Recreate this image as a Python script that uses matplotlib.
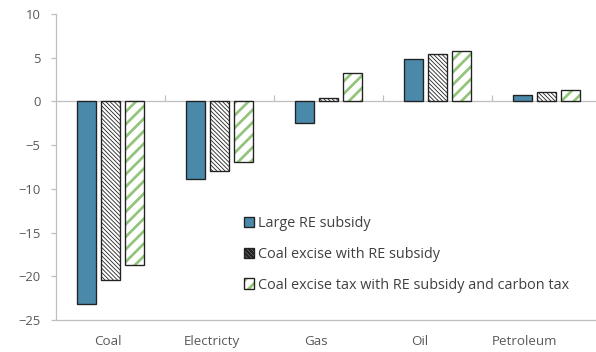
import numpy as np
import matplotlib
matplotlib.use('Agg')
import matplotlib.pyplot as plt
from matplotlib.patches import Patch
from matplotlib.legend_handler import HandlerTuple

categories = ['Coal', 'Electricty', 'Gas', 'Oil', 'Petroleum']
large_re_subsidy = [-23.2, -8.9, -2.5, 4.9, 0.7]
coal_excise_re = [-20.4, -8.0, 0.4, 5.4, 1.05]
coal_excise_re_carbon = [-18.7, -6.95, 3.25, 5.75, 1.3]
series_labels = ['Large RE subsidy',
                 'Coal excise with RE subsidy',
                 'Coal excise tax with RE subsidy and carbon tax']
y_ticks = np.arange(-25, 11, 5)

DPI = 75
BLUE = '#4a89aa'
GREEN = '#92c57a'
GREY = '#bfbfbf'
TEXT = '#595959'
EDGE = '#222222'
HATCH_DENSE = '\\' * 6
HATCH_WIDE = '//'

plt.rcParams['font.family'] = ['Open Sans', 'DejaVu Sans']
plt.rcParams['font.size'] = 12.5

fig = plt.figure(figsize=(596 / DPI, 352 / DPI), dpi=DPI)
ax = fig.add_axes([56 / 596, 32 / 352, 545 / 596, 306 / 352])

x = np.arange(len(categories))
width = 0.18
step = 0.22

# solid blue bars
ax.bar(x - step, large_re_subsidy, width, color=BLUE,
       edgecolor=EDGE, linewidth=1.3, zorder=3)

# black diagonal hatch
plt.rcParams['hatch.linewidth'] = 0.8
ax.bar(x, coal_excise_re, width, color='white', edgecolor=EDGE,
       hatch=HATCH_DENSE, linewidth=1.3, zorder=3)

# green hatch, outline drawn separately so it stays black
plt.rcParams['hatch.linewidth'] = 2.6
green = ax.bar(x + step, coal_excise_re_carbon, width, color='white',
               edgecolor=GREEN, hatch=HATCH_WIDE, linewidth=0, zorder=3)
for p in green:
    if hasattr(p, 'set_hatch_linewidth'):
        p.set_hatch_linewidth(2.6)
ax.bar(x + step, coal_excise_re_carbon, width, fill=False,
       edgecolor=EDGE, linewidth=1.3, zorder=4)

# zero line with category separators
ax.axhline(0, color=GREY, linewidth=1.2, zorder=2)
ax.vlines(x[:-1] + 0.5, 0, 0.7, color=GREY, linewidth=1.2, zorder=2)

ax.set_xlim(-0.5, len(categories) - 0.5)
ax.set_ylim(-25, 10)
ax.set_yticks(y_ticks)

# category labels sit on a slightly narrower spacing than the bars
label_pos = (x + 0.5) * 104 / 109 - 0.5
ax.set_xticks(label_pos)
ax.set_xticklabels(categories, fontsize=12.8)

for side in ['top', 'right']:
    ax.spines[side].set_visible(False)
for side in ['left', 'bottom']:
    ax.spines[side].set_color(GREY)
    ax.spines[side].set_linewidth(1.2)
ax.tick_params(axis='y', colors=GREY, labelcolor=TEXT, length=5, width=1.2, pad=10)
ax.tick_params(axis='x', length=0, labelcolor=TEXT, pad=14)

# legend handles
h_blue = Patch(facecolor=BLUE, edgecolor=EDGE, linewidth=1.3)
plt.rcParams['hatch.linewidth'] = 0.8
h_black = Patch(facecolor='white', edgecolor=EDGE, hatch=HATCH_DENSE, linewidth=1.3)
plt.rcParams['hatch.linewidth'] = 2.6
h_green = (Patch(facecolor='white', edgecolor=GREEN, hatch=HATCH_WIDE, linewidth=0),
           Patch(fill=False, edgecolor=EDGE, linewidth=1.3))
leg = fig.legend([h_blue, h_black, h_green], series_labels,
                 loc='upper left', bbox_to_anchor=(244 / 596, 1 - 216 / 352),
                 frameon=False, fontsize=13.8, handlelength=0.72, handleheight=0.72,
                 handletextpad=0.25, labelspacing=1.1, borderpad=0,
                 borderaxespad=0,
                 handler_map={tuple: HandlerTuple(ndivide=1, pad=0)})
for t in leg.get_texts():
    t.set_color('#404040')

fig.savefig('out.png', dpi=DPI)
